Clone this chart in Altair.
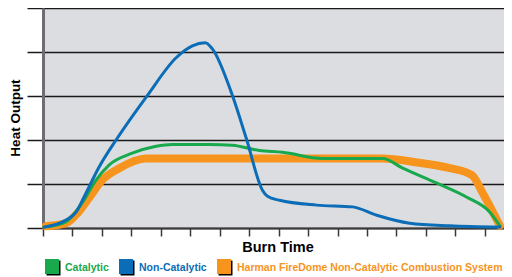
import altair as alt
import pandas as pd

# ---- data (x in burn-time tick units, y in grid units) ----
series_names = ["Catalytic", "Non-Catalytic", "Harman FireDome Non-Catalytic Combustion System"]
series_colors = ["#17a94b", "#0b6db7", "#f7941d"]

cat_x = [0.03, 0.78, 1.33, 1.80, 2.24, 3.03, 3.84, 4.39, 5.65, 6.43, 7.35, 8.13, 9.49, 11.53, 12.21, 13.37, 14.39, 15.17, 15.51]
cat_y = [0.02, 0.14, 0.57, 1.09, 1.43, 1.70, 1.86, 1.90, 1.90, 1.88, 1.76, 1.72, 1.58, 1.58, 1.36, 1.02, 0.70, 0.36, 0.05]

non_x = [0.03, 0.78, 1.12, 1.39, 1.90, 2.52, 3.54, 4.52, 5.07, 5.51, 5.75, 6.43, 6.90, 7.45, 7.62, 8.03, 9.29, 10.51, 11.33, 12.45, 13.81, 15.51]
non_y = [0.02, 0.18, 0.36, 0.70, 1.38, 2.04, 3.01, 3.87, 4.14, 4.21, 4.07, 3.01, 2.04, 0.86, 0.72, 0.63, 0.52, 0.48, 0.29, 0.11, 0.05, 0.02]

har_x = [0.10, 0.78, 1.12, 1.56, 2.01, 2.59, 3.50, 11.53, 12.69, 13.81, 14.56, 14.93, 15.51]
har_y = [0.04, 0.11, 0.30, 0.68, 1.09, 1.36, 1.58, 1.58, 1.49, 1.36, 1.20, 0.79, 0.05]

x_ticks = list(range(16))
y_grid = [0, 1, 2, 3, 4, 5]

x_title = "Burn Time"
y_title = "Heat Output"

rows = []
for name, xs, ys in zip(series_names, [cat_x, non_x, har_x], [cat_y, non_y, har_y]):
    for a, b in zip(xs, ys):
        rows.append({"series": name, "x": a, "y": b})
df = pd.DataFrame(rows)

x_scale = alt.Scale(domain=[0, 15.65], nice=False, zero=False)
y_scale = alt.Scale(domain=[0, 5], nice=False)

x_axis = alt.Axis(values=x_ticks, labels=False, tickSize=8, tickColor="#3a3a3a", tickWidth=1.5,
                  domainColor="#3a3a3a", domainWidth=2, grid=False, title=None)
y_axis = alt.Axis(values=y_grid, labels=False, tickSize=16, tickColor="#1a1a1a", tickWidth=1.5,
                  grid=True, gridColor="#1a1a1a", gridWidth=1.5, domainColor="#6d6e71", domainWidth=3,
                  title=None)


def line(name, color, width):
    return alt.Chart(df).transform_filter(alt.datum.series == name).mark_line(
        interpolate="monotone", color=color, strokeWidth=width, strokeCap="round", strokeJoin="round"
    ).encode(
        x=alt.X("x:Q", scale=x_scale, axis=x_axis),
        y=alt.Y("y:Q", scale=y_scale, axis=y_axis),
    )


one = pd.DataFrame({"k": [0]})
bold_font = "Liberation Sans"


def text(label, x, y, size, color, angle=0, align="center"):
    return alt.Chart(one).mark_text(
        font=bold_font, fontSize=size, fontWeight="bold", color=color, angle=angle,
        align=align, baseline="middle"
    ).encode(x=alt.value(x), y=alt.value(y), text=alt.value(label))


def square(x, y, color):
    shadow = alt.Chart(one).mark_rect(color="#000000").encode(
        x=alt.value(x + 1.5), x2=alt.value(x + 15.5), y=alt.value(y + 1.5), y2=alt.value(y + 16.5))
    sq = alt.Chart(one).mark_rect(color=color).encode(
        x=alt.value(x), x2=alt.value(x + 14), y=alt.value(y), y2=alt.value(y + 15))
    return [shadow, sq]


layers = [
    line(series_names[2], series_colors[2], 8),
    line(series_names[0], series_colors[0], 3),
    line(series_names[1], series_colors[1], 3),
    text(y_title, -27, 110, 13.5, "#000000", angle=270),
    text(x_title, 235, 240, 14.5, "#000000"),
]
leg_sq_x = [2, 76, 174]
leg_txt_x = [22, 96, 194]
leg_sizes = [10.5, 10.5, 10.5]
for i in range(3):
    layers += square(leg_sq_x[i], 251, series_colors[i])
    layers.append(text(series_names[i], leg_txt_x[i], 260, leg_sizes[i], series_colors[i], align="left"))

chart = alt.layer(*layers).properties(
    width=461, height=220,
    autosize=alt.AutoSizeParams(type="none"),
    padding={"left": 35, "top": 0, "right": 0, "bottom": 49},
).configure_view(fill="#dcdde0", strokeWidth=0)

chart.save("out.html", embed_options={"renderer": "svg", "actions": False})
